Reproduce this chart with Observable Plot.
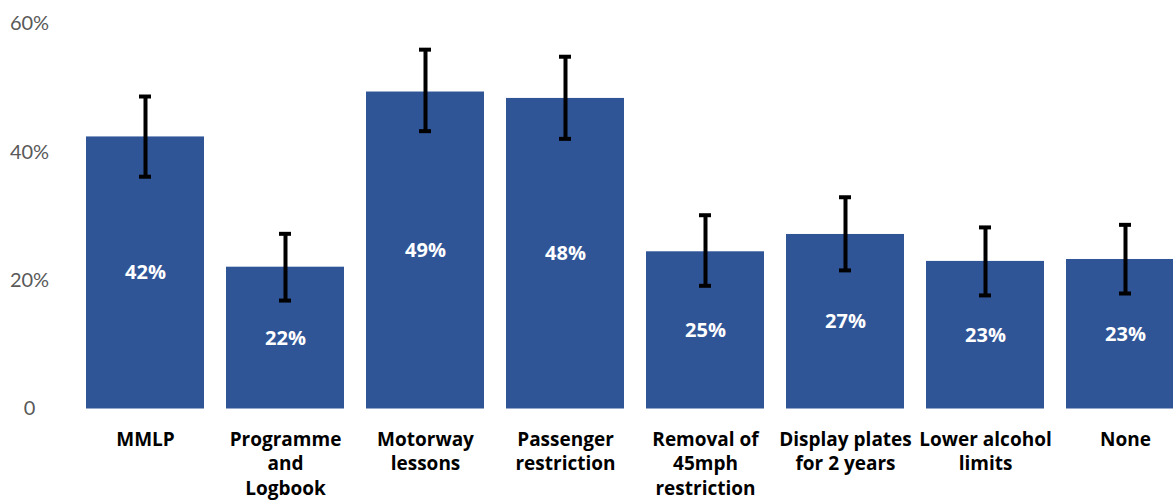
<!DOCTYPE html>
<html>
<head>
<meta charset="utf-8">
<script src="https://cdn.jsdelivr.net/npm/d3@7"></script>
<script src="https://cdn.jsdelivr.net/npm/@observablehq/plot@0.6"></script>
<style>
  html, body { margin: 0; padding: 0; background: #fff; overflow: hidden; }
  #chart { width: 1173px; height: 500px; }
</style>
</head>
<body>
<div id="chart"></div>
<script>
const categories = ["MMLP", "Programme\nand\nLogbook", "Motorway\nlessons", "Passenger\nrestriction",
  "Removal of\n45mph\nrestriction", "Display plates\nfor 2 years", "Lower alcohol\nlimits", "None"];
const values = [42.4, 22.1, 49.4, 48.4, 24.5, 27.2, 23.0, 23.3];
const errLow = [36.2, 16.9, 43.3, 42.1, 19.2, 21.6, 17.7, 18.0];
const errHigh = [48.7, 27.3, 56.0, 54.9, 30.2, 33.0, 28.3, 28.7];
const yTicks = [0, 20, 40, 60];

const data = categories.map((c, i) => ({cat: c, v: values[i], lo: errLow[i], hi: errHigh[i]}));

const chart = Plot.plot({
  width: 1173,
  height: 500,
  marginLeft: 40,
  marginRight: 0,
  marginTop: 20,
  marginBottom: 92,
  style: {fontFamily: "'Open Sans', Lato, sans-serif", background: "#fff"},
  x: {domain: categories, range: [74, 1195.5], paddingInner: 0.158, paddingOuter: 0.079, label: null},
  y: {domain: [0, 60], range: [408.5, 23.5], label: null},
  marks: [
    Plot.barY(data, {x: "cat", y: "v", fill: "#2F5597"}),
    Plot.ruleX(data, {x: "cat", y1: "lo", y2: "hi", stroke: "#000", strokeWidth: 4}),
    Plot.tickY(data, {x: "cat", y: "lo", stroke: "#000", strokeWidth: 4, insetLeft: 53, insetRight: 53}),
    Plot.tickY(data, {x: "cat", y: "hi", stroke: "#000", strokeWidth: 4, insetLeft: 53, insetRight: 53}),
    Plot.text(data, {x: "cat", y: d => d.v / 2, text: d => Math.round(d.v) + "%", fill: "#fff",
      fontSize: 20, fontWeight: "bold"}),
    Plot.axisY({ticks: yTicks, tickSize: 0, tickPadding: 11, textAnchor: "middle",
      tickFormat: d => d === 0 ? "0" : d + "%", fontSize: 20, fill: "#595959",
      fontFamily: "Lato, sans-serif", label: null}),
    Plot.axisX({tickSize: 0, tickPadding: 20, fontSize: 19, fontWeight: "bold", fill: "#000",
      lineHeight: 1.29, label: null})
  ]
});
document.getElementById("chart").appendChild(chart);
</script>
</body>
</html>
